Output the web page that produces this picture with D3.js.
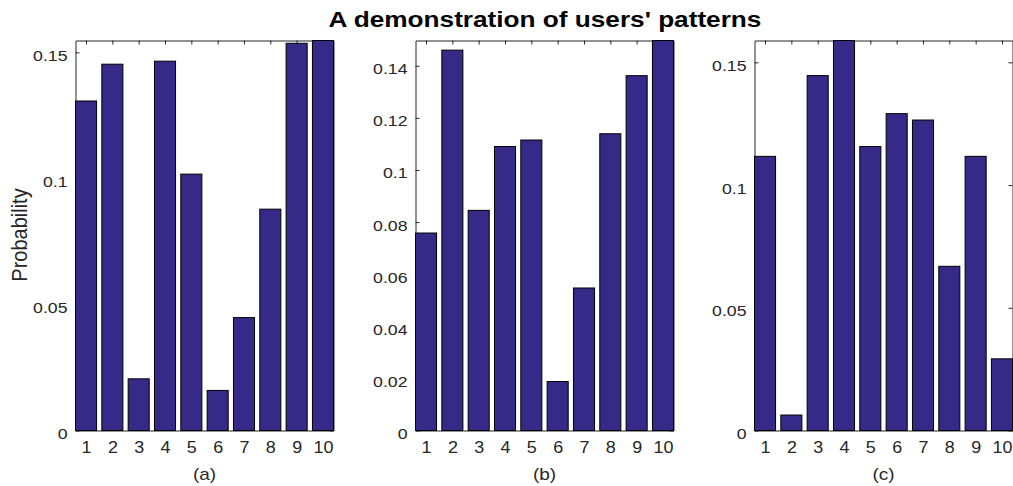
<!DOCTYPE html>
<html>
<head>
<meta charset="utf-8">
<script src="https://cdn.jsdelivr.net/npm/d3@7"></script>
<style>
  body { margin: 0; background: #fff; }
  text { font-family: "Liberation Sans", Arial, Helvetica, sans-serif; }
</style>
</head>
<body>
<div id="chart"></div>
<script>
// categories (users' pattern index) and the three distributions
const categories = [1, 2, 3, 4, 5, 6, 7, 8, 9, 10]
const valuesA = [0.1307, 0.1453, 0.0205, 0.1465, 0.1017, 0.0159, 0.0448, 0.0878, 0.1536, 0.1547]
const valuesB = [0.0758, 0.1460, 0.0845, 0.1090, 0.1115, 0.0188, 0.0547, 0.1139, 0.1362, 0.1497]
const valuesC = [0.1117, 0.0063, 0.1446, 0.1589, 0.1157, 0.1291, 0.1265, 0.0669, 0.1117, 0.0292]

const ticksA = [0, 0.05, 0.1, 0.15]
const ticksB = [0, 0.02, 0.04, 0.06, 0.08, 0.1, 0.12, 0.14]
const ticksC = [0, 0.05, 0.1, 0.15]

const panelLabels = ['(a)', '(b)', '(c)']
const title = "A demonstration of users' patterns"
const yLabel = 'Probability'

const panels = [
    { values: valuesA, ticks: ticksA, label: panelLabels[0], left: 75.5 },
    { values: valuesB, ticks: ticksB, label: panelLabels[1], left: 415.5 },
    { values: valuesC, ticks: ticksC, label: panelLabels[2], left: 754.5 }
]

////////////////////////////////////
//////////////globals///////////////
////////////////////////////////////
const svgWidth = 1013
const svgHeight = 486
const marginTop = 40.5
const width = 258
const height = 390
const barColor = '#352a87'
const axisColor = '#262626'

const svg = d3.select('#chart')
    .append('svg')
    .attr('width', svgWidth)
    .attr('height', svgHeight)

// title across the three axes
svg.append('text')
    .attr('transform', `translate(545,27) scale(1.19,1)`)
    .attr('text-anchor', 'middle')
    .attr('font-weight', 'bold')
    .attr('font-size', 22)
    .attr('fill', '#000')
    .text(title)

// text in the picture is a bit wider than tall: stretch tick texts in place
function stretchText(sel, sx) {
    sel.selectAll('.tick text').each(function () {
        const t = d3.select(this)
        const x = +t.attr('x') || 0
        const y = +t.attr('y') || 0
        t.attr('x', 0).attr('y', 0)
            .attr('transform', `translate(${x},${y}) scale(${sx},1)`)
    })
}

panels.forEach((p, i) => {

    const xScale = d3.scaleLinear()
        .domain([0.6, 10.4])
        .range([0, width])

    const yScale = d3.scaleLinear()
        .domain([0, d3.max(p.values)])
        .range([height, 0])

    const g = svg.append('g')
        .attr('transform', `translate(${p.left},${marginTop})`)

    // axes (drawn under the bars, like the original)
    const bottom = g.append('g')
        .attr('transform', `translate(0,${height})`)
        .call(d3.axisBottom(xScale).tickValues(categories).tickFormat(d3.format('d'))
            .tickSizeInner(-4).tickSizeOuter(0).tickPadding(11.6))
    const leftAx = g.append('g')
        .call(d3.axisLeft(yScale).tickValues(p.ticks).tickFormat(d3.format('~g'))
            .tickSizeInner(-4).tickSizeOuter(0).tickPadding(8))
    const topAx = g.append('g')
        .call(d3.axisTop(xScale).tickValues(categories).tickFormat('')
            .tickSizeInner(-4).tickSizeOuter(0))
    const rightAx = g.append('g')
        .attr('transform', `translate(${width},0)`)
        .call(d3.axisRight(yScale).tickValues(p.ticks).tickFormat('')
            .tickSizeInner(-4).tickSizeOuter(0))

    ;[bottom, leftAx, topAx, rightAx].forEach(a => {
        a.select('.domain').attr('stroke', axisColor)
        a.selectAll('.tick line').attr('stroke', axisColor)
        a.selectAll('.tick text')
            .attr('fill', axisColor)
            .attr('font-family', '"Liberation Sans", Arial, sans-serif')
    })
    bottom.selectAll('.tick text').attr('font-size', 16)
    leftAx.selectAll('.tick text').attr('font-size', 15).attr('dy', '0.53em')
    stretchText(bottom, 1.12)
    stretchText(leftAx, 1.18)

    // bars
    g.selectAll('.bar')
        .data(p.values)
        .join('rect')
        .attr('class', 'bar')
        .attr('x', (d, j) => xScale(categories[j] - 0.4))
        .attr('width', (d, j) => xScale(categories[j] + 0.4) - xScale(categories[j] - 0.4))
        .attr('y', d => yScale(d))
        .attr('height', d => yScale(0) - yScale(d))
        .attr('fill', barColor)
        .attr('stroke', '#000')
        .attr('stroke-width', 1)

    // panel label under the axis
    g.append('text')
        .attr('transform', `translate(${width / 2},${480 - marginTop}) scale(1.12,1)`)
        .attr('text-anchor', 'middle')
        .attr('font-size', 17)
        .attr('fill', axisColor)
        .text(p.label)

    if (i === 0) {
        g.append('text')
            .attr('transform', `translate(${27 - p.left},${235 - marginTop}) scale(1.12,1) rotate(-90)`)
            .attr('text-anchor', 'middle')
            .attr('font-size', 20)
            .attr('fill', axisColor)
            .text(yLabel)
    }
})
</script>
</body>
</html>
